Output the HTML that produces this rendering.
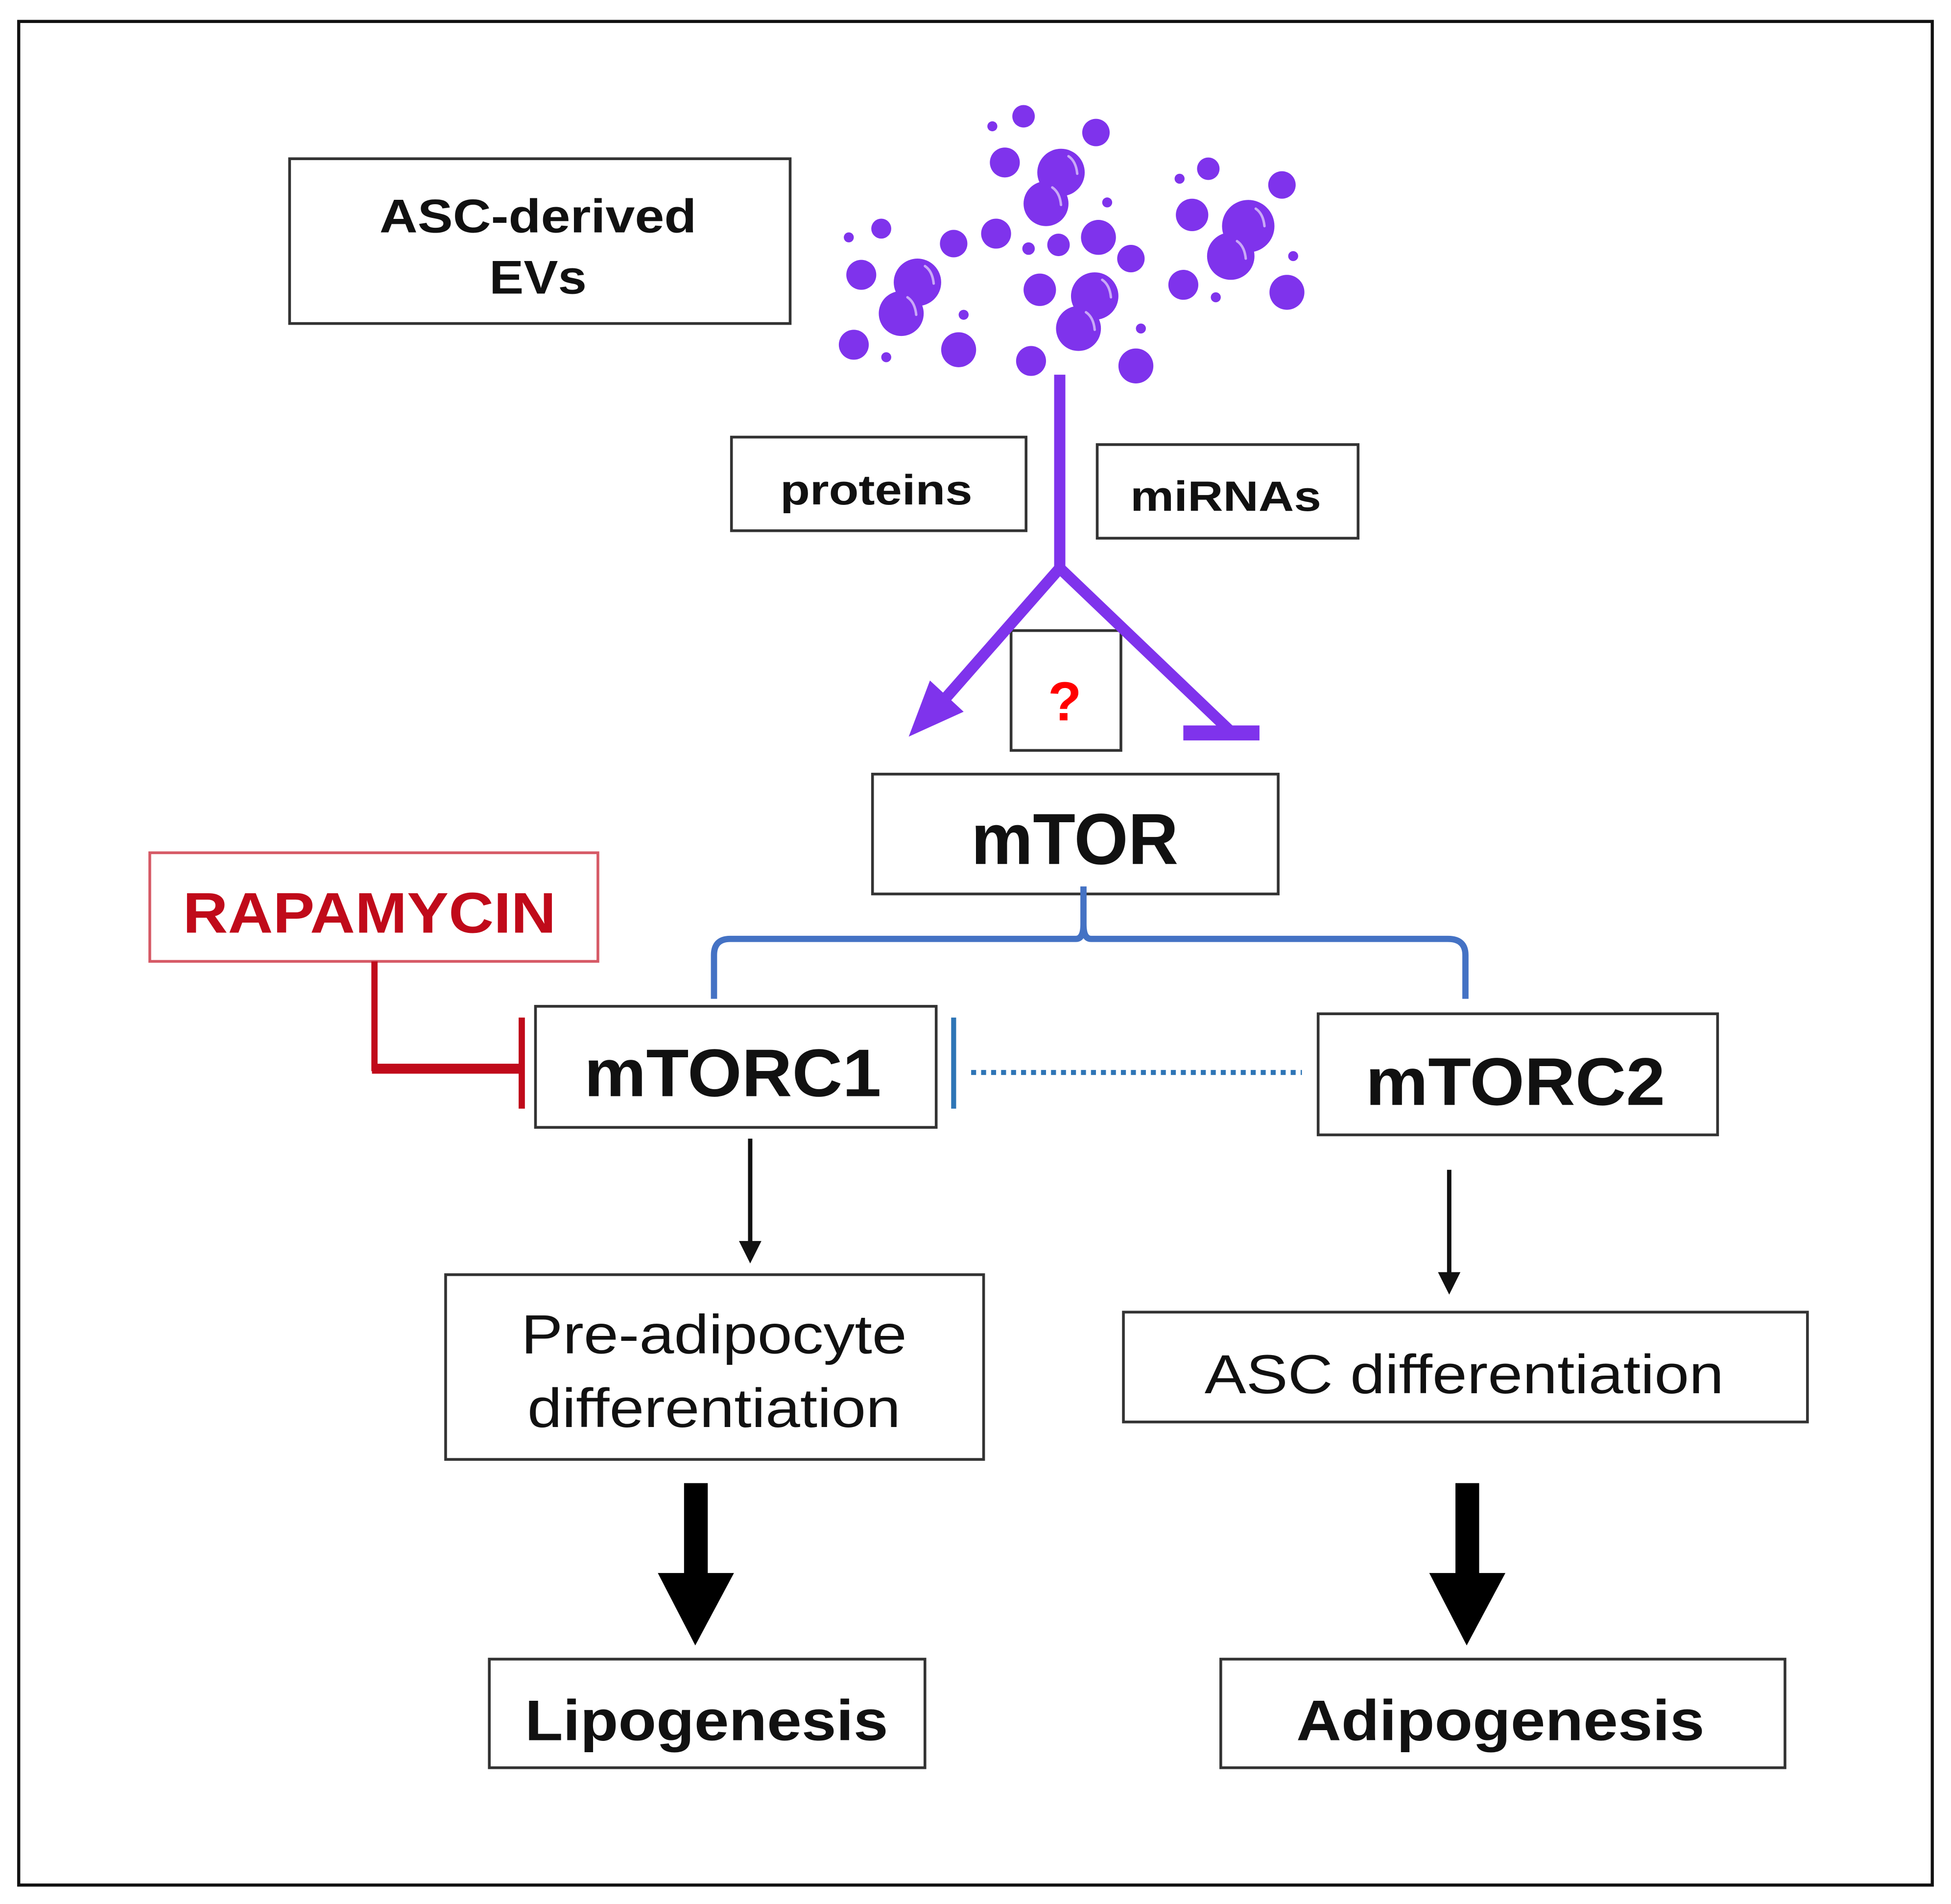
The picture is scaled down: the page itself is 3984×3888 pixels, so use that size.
<!DOCTYPE html>
<html><head><meta charset="utf-8"><style>html,body{margin:0;padding:0;background:#fff}svg{display:block}</style></head>
<body>
<svg width="3984" height="3888" viewBox="0 0 1563 1525" xmlns="http://www.w3.org/2000/svg" font-family="'Liberation Sans', Arial, sans-serif">
<rect x="0" y="0" width="1563" height="1525" fill="#fff"/>
<rect x="15" y="17" width="1533" height="1493" fill="none" stroke="#111" stroke-width="2.5"/>
<g fill="#fff" stroke="#333" stroke-width="2.2">
<rect x="232" y="127" width="401" height="132"/>
<rect x="586" y="350" width="236" height="75"/>
<rect x="879" y="356" width="209" height="75"/>
<rect x="810" y="505" width="88" height="96"/>
<rect x="699" y="620" width="325" height="96"/>
<rect x="429" y="806" width="321" height="97"/>
<rect x="1056" y="812" width="320" height="97"/>
<rect x="357" y="1021" width="431" height="148"/>
<rect x="900" y="1051" width="548" height="88"/>
<rect x="392" y="1329" width="349" height="87"/>
<rect x="978" y="1329" width="452" height="87"/>
</g>
<rect x="120" y="683" width="359" height="87" fill="#fff" stroke="#d65a66" stroke-width="2.2"/>
<g fill="#7f33ec">
<circle cx="706" cy="183" r="8"/><circle cx="680" cy="190" r="4"/><circle cx="690" cy="220" r="12"/><circle cx="735" cy="226" r="19"/><circle cx="722" cy="251" r="18"/><circle cx="764" cy="195" r="11"/><circle cx="684" cy="276" r="12"/><circle cx="710" cy="286" r="4"/><circle cx="768" cy="280" r="14"/><circle cx="772" cy="252" r="4"/>
<circle cx="820" cy="93" r="9"/><circle cx="795" cy="101" r="4"/><circle cx="878" cy="106" r="11"/><circle cx="805" cy="130" r="12"/><circle cx="850" cy="138" r="19"/><circle cx="838" cy="163" r="18"/><circle cx="887" cy="162" r="4"/><circle cx="798" cy="187" r="12"/><circle cx="824" cy="199" r="5"/><circle cx="848" cy="196" r="9"/><circle cx="880" cy="190" r="14"/><circle cx="906" cy="207" r="11"/><circle cx="833" cy="232" r="13"/><circle cx="877" cy="237" r="19"/><circle cx="864" cy="263" r="18"/><circle cx="826" cy="289" r="12"/><circle cx="910" cy="293" r="14"/><circle cx="914" cy="263" r="4"/><circle cx="895" cy="262" r="0"/>
<circle cx="968" cy="135" r="9"/><circle cx="945" cy="143" r="4"/><circle cx="1027" cy="148" r="11"/><circle cx="955" cy="172" r="13"/><circle cx="1000" cy="181" r="21"/><circle cx="986" cy="205" r="19"/><circle cx="1036" cy="205" r="4"/><circle cx="948" cy="228" r="12"/><circle cx="974" cy="238" r="4"/><circle cx="1031" cy="234" r="14"/>
</g>
<g fill="none" stroke="#c9a8f7" stroke-width="2" stroke-linecap="round">
<path d="M741 213 q6 4 7 14"/><path d="M727 238 q6 4 7 14"/><path d="M856 125 q6 4 7 14"/><path d="M843 150 q6 4 7 14"/><path d="M883 224 q6 4 7 14"/><path d="M870 250 q6 4 7 14"/><path d="M1006 167 q6 4 7 14"/><path d="M991 193 q6 4 7 14"/>
</g>
<g stroke="#7f33ec" stroke-width="9" fill="none">
<line x1="849" y1="300" x2="849" y2="458"/>
<line x1="849" y1="455" x2="748" y2="570"/>
<line x1="849" y1="455" x2="985" y2="585"/>
</g>
<polygon points="728,590 745,545 772,570" fill="#7f33ec"/>
<rect x="948" y="581" width="61" height="12" fill="#7f33ec"/>
<path d="M868 710 L868 740 Q868 752 862 752 L585 752 Q572 752 572 765 L572 800 M868 740 Q868 752 874 752 L1160 752 Q1174 752 1174 765 L1174 800" fill="none" stroke="#4472c4" stroke-width="5"/>
<line x1="764" y1="815" x2="764" y2="888" stroke="#2e75b6" stroke-width="4"/>
<line x1="778" y1="859" x2="1043" y2="859" stroke="#2e75b6" stroke-width="4" stroke-dasharray="4 4"/>
<g stroke="#c00a1a" fill="none">
<path d="M300 770 L300 858" stroke-width="5"/>
<path d="M298 856 L417 856" stroke-width="8"/>
<path d="M418 815 L418 888" stroke-width="5"/>
</g>
<g stroke="#111" stroke-width="3.5">
<line x1="601" y1="912" x2="601" y2="998"/>
<line x1="1161" y1="937" x2="1161" y2="1023"/>
</g>
<polygon points="592,994 610,994 601,1012" fill="#111"/>
<polygon points="1152,1019 1170,1019 1161,1037" fill="#111"/>
<rect x="548" y="1188" width="19" height="76" fill="#000"/>
<polygon points="527,1260 588,1260 557,1318" fill="#000"/>
<rect x="1166" y="1188" width="19" height="76" fill="#000"/>
<polygon points="1145,1260 1206,1260 1175,1318" fill="#000"/>
<g font-weight="bold" fill="#111" text-anchor="middle">
<text x="431" y="186" font-size="38" textLength="254" lengthAdjust="spacingAndGlyphs">ASC-derived</text>
<text x="431" y="235" font-size="38" textLength="78" lengthAdjust="spacingAndGlyphs">EVs</text>
<text x="702" y="404" font-size="34" textLength="154" lengthAdjust="spacingAndGlyphs">proteins</text>
<text x="982" y="409" font-size="34" textLength="153" lengthAdjust="spacingAndGlyphs">miRNAs</text>
<text x="861" y="692" font-size="58" textLength="166" lengthAdjust="spacingAndGlyphs">mTOR</text>
<text x="587" y="878" font-size="54" textLength="238" lengthAdjust="spacingAndGlyphs">mTORC1</text>
<text x="1214" y="885" font-size="54" textLength="240" lengthAdjust="spacingAndGlyphs">mTORC2</text>
<text x="566" y="1394" font-size="46" textLength="291" lengthAdjust="spacingAndGlyphs">Lipogenesis</text>
<text x="1202" y="1394" font-size="46" textLength="327" lengthAdjust="spacingAndGlyphs">Adipogenesis</text>
</g>
<text x="853" y="577" font-size="44" font-weight="bold" fill="#ff0000" text-anchor="middle">?</text>
<text x="296" y="747" font-size="46" font-weight="bold" fill="#c00a1a" text-anchor="middle" textLength="299" lengthAdjust="spacingAndGlyphs">RAPAMYCIN</text>
<g fill="#111" text-anchor="middle">
<text x="572" y="1084" font-size="44" textLength="309" lengthAdjust="spacingAndGlyphs">Pre-adipocyte</text>
<text x="572" y="1143" font-size="44" textLength="299" lengthAdjust="spacingAndGlyphs">differentiation</text>
<text x="1173" y="1116" font-size="44" textLength="416" lengthAdjust="spacingAndGlyphs">ASC differentiation</text>
</g>
</svg>
</body></html>
